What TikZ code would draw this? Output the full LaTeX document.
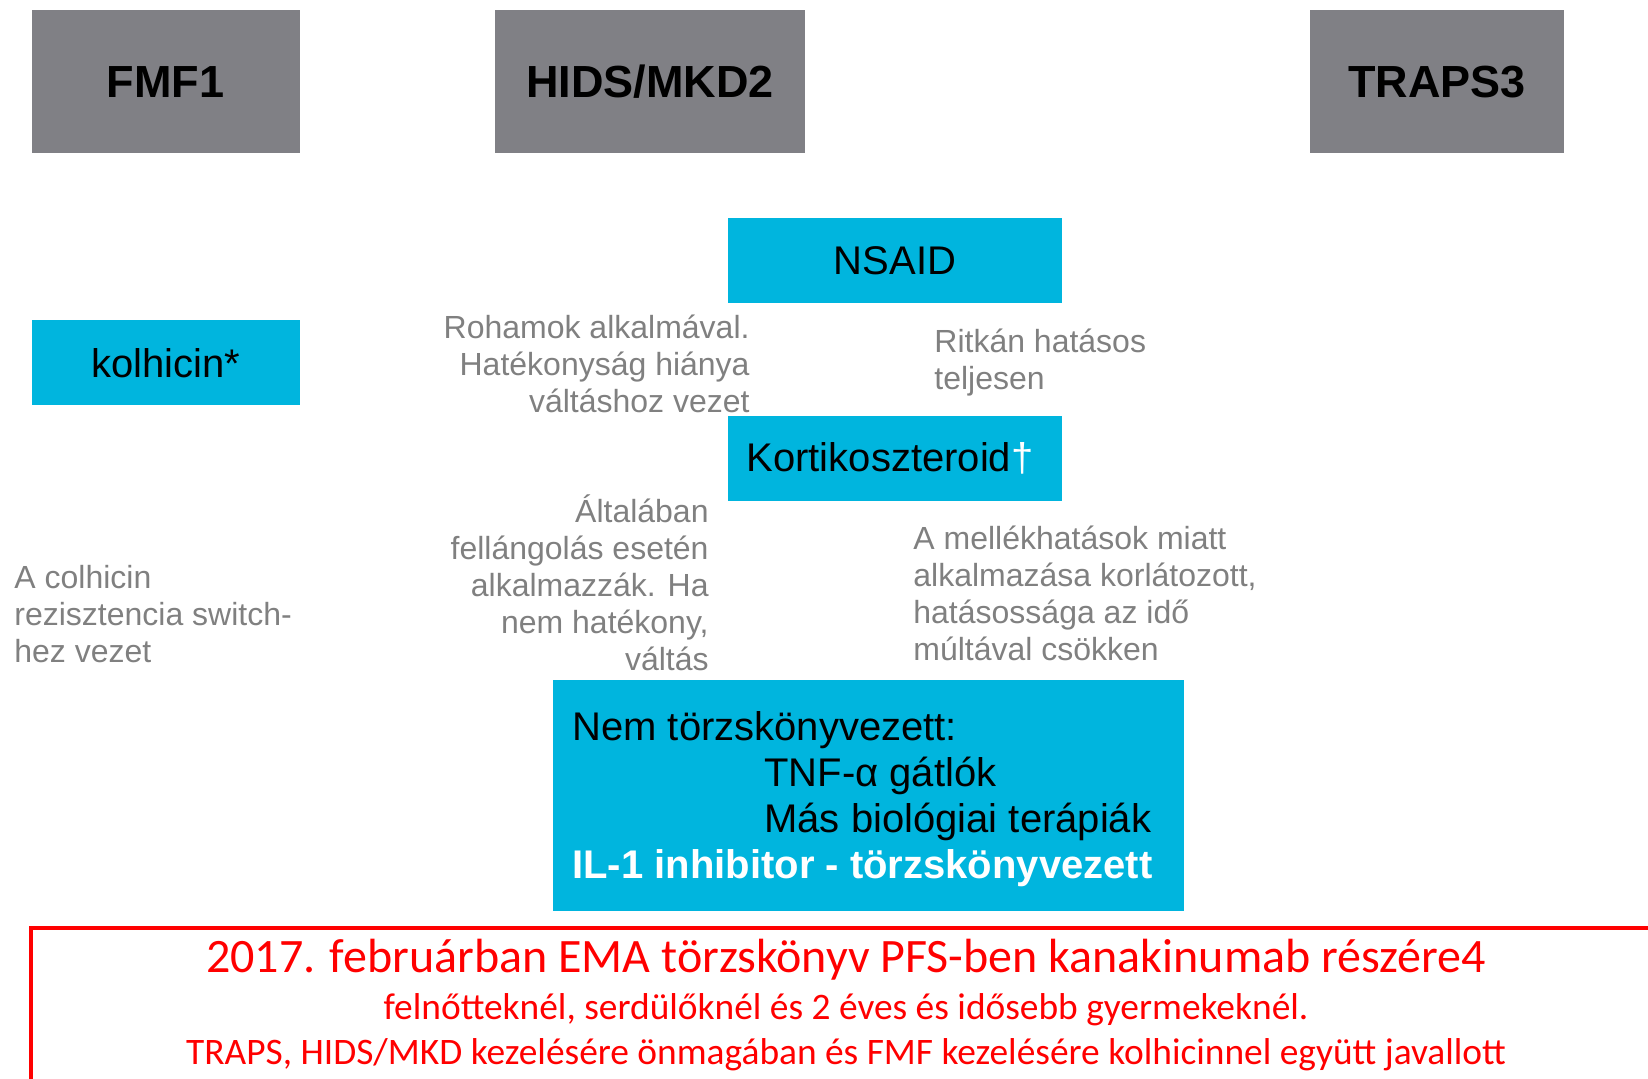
\documentclass[tikz,border=0pt]{standalone}
\usepackage{fontspec}
\setmainfont{Liberation Sans}
\newfontfamily\redfont{Carlito}
\usetikzlibrary{positioning}
\definecolor{hdrgray}{RGB}{128,128,133}
\definecolor{drugblue}{RGB}{0,181,222}
\definecolor{notegray}{RGB}{128,128,128}
\tikzset{
  hdrbox/.style={fill=hdrgray, inner sep=0pt, minimum height=71.5pt,
    font=\bfseries\fontsize{22.5}{27}\selectfont},
  drugbox/.style={fill=drugblue, inner sep=0pt, minimum width=167pt,
    minimum height=42.5pt, font=\fontsize{20}{23}\selectfont},
  note/.style={text=notegray, inner sep=0pt, font=\fontsize{16}{18.5}\selectfont},
  redtext/.style={text=red, inner sep=0pt}
}
\begin{document}
\begin{tikzpicture}[x=0.5pt, y=-0.5pt, node distance=99pt, on grid]
\useasboundingbox (0,0) rectangle (1648,1079);
\clip (0,0) rectangle (1648,1079);

% disease headers
\node[hdrbox, minimum width=134pt] (fmf) at (165.5,82) {FMF1};
\node[hdrbox, minimum width=155pt] (hids) at (650,82) {HIDS/MKD2};
\node[hdrbox, minimum width=127pt] (traps) at (1437,82) {TRAPS3};

% therapies
\node[drugbox, minimum width=134pt] (kolh) at (165.5,363) {kolhicin*};
\node[drugbox] (nsaid) at (895,260.5) {NSAID};
\node[drugbox] (kort) [below=of nsaid] {\hspace*{-5pt}Kortikoszteroid\textcolor{white}{\char"2020}};
\node[fill=drugblue, minimum width=315.5pt, minimum height=115.5pt] (bio) at (868.5,795.5) {};
\node[anchor=north west, inner sep=0pt, align=left, font=\fontsize{20}{23}\selectfont]
  (biotext) at (572,711) {Nem törzskönyvezett:\\
  \hspace*{96pt}TNF-α gátlók\\
  \hspace*{96pt}Más biológiai terápiák\\
  \textcolor{white}{\bfseries IL-1 inhibitor - törzskönyvezett}};

% notes
\node[note, anchor=north east, align=right] (rohamok) at (750,315)
  {Rohamok alkalmával.\\Hatékonyság hiánya\\váltáshoz vezet};
\node[note, anchor=north west, align=left] (ritkan) at (934,329)
  {Ritkán hatásos\\teljesen};
\node[note, anchor=north east, align=right] (altalaban) at (709,494)
  {Általában\\fellángolás esetén\\alkalmazzák. Ha\\nem hatékony,\\váltás};
\node[note, anchor=north west, align=left] (mellek) at (913,526)
  {A mellékhatások miatt\\alkalmazása korlátozott,\\hatásossága az idő\\múltával csökken};
\node[note, anchor=north west, align=left] (colh) at (14,565)
  {A colhicin\\rezisztencia switch-\\hez vezet};

% EMA box
\draw[red, line width=2pt] (31,1100) |- (1700,928);
\node[redtext, font=\redfont\fontsize{24}{28}\selectfont] (ema1) at (846,960)
  {2017. februárban EMA törzskönyv PFS-ben kanakinumab részére4};
\node[redtext, font=\redfont\fontsize{18.7}{22}\selectfont] (ema2) at (846,1010)
  {felnőtteknél, serdülőknél és 2 éves és idősebb gyermekeknél.};
\node[redtext, font=\redfont\fontsize{18.7}{22}\selectfont] (ema3) at (846,1055)
  {TRAPS, HIDS/MKD kezelésére önmagában és FMF kezelésére kolhicinnel együtt javallott};
\end{tikzpicture}
\end{document}
